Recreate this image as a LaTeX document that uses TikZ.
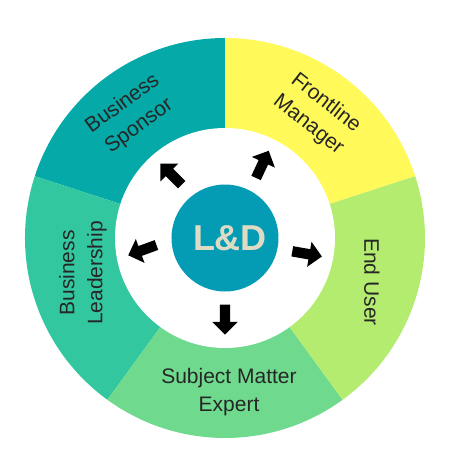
\documentclass[tikz,border=0pt]{standalone}
\usepackage{fontspec}
\setmainfont{Liberation Sans}
\usepackage{xcolor}
\usepackage{tikz}
\usetikzlibrary{shapes.arrows}

\definecolor{sponsorc}{HTML}{05AAA8}
\definecolor{managerc}{HTML}{FFF95A}
\definecolor{userc}{HTML}{B3EC6E}
\definecolor{expertc}{HTML}{6FDA8E}
\definecolor{leaderc}{HTML}{33C7A0}
\definecolor{hubc}{HTML}{049BB4}
\definecolor{ldc}{HTML}{DDDBC4}

\begin{document}
\begin{tikzpicture}[
    x=1pt, y=1pt,
    lbl/.style={align=center, font=\fontsize{21}{28}\selectfont, text=black!85},
    hole/.style={circle, fill=white, minimum size=220pt, inner sep=0pt},
    hub/.style={circle, fill=hubc, minimum size=107pt, inner sep=0pt, text=ldc, font=\fontsize{36}{40}\selectfont\bfseries},
    arr/.style={single arrow, fill=black, inner xsep=0pt, inner ysep=5pt, minimum height=30pt, single arrow head extend=7.5pt}
]
\useasboundingbox (-225,-237) rectangle (230,238);

\fill[managerc] (0,0) -- (18:200pt) arc[start angle=18, end angle=90, radius=200pt] -- cycle;
\fill[sponsorc] (0,0) -- (90:200pt) arc[start angle=90, end angle=162, radius=200pt] -- cycle;
\fill[leaderc] (0,0) -- (162:200pt) arc[start angle=162, end angle=234, radius=200pt] -- cycle;
\fill[expertc] (0,0) -- (234:200pt) arc[start angle=234, end angle=306, radius=200pt] -- cycle;
\fill[userc] (0,0) -- (306:200pt) arc[start angle=306, end angle=378, radius=200pt] -- cycle;

\node[hole] (ring) at (0,0) {};
\node[hub] (ld) at (0,0) {\hspace*{10pt}L\&D};

\node[lbl, rotate=36] (sponsor) at (-94,123) {Business\\Sponsor};
\node[lbl, rotate=-38] (manager) at (92,124) {Frontline\\Manager};
\node[lbl, rotate=-90] (user) at (147,-44) {End User};
\node[lbl] (expert) at (4,-154) {Subject Matter\\Expert};
\node[lbl, rotate=90] (leader) at (-142,-35) {Business\\Leadership};

\node[arr, rotate=135] (toSponsor) at (130:81pt) {};
\node[arr, rotate=65] (toManager) at (63:80pt) {};
\node[arr, rotate=-10] (toUser) at (-11:81pt) {};
\node[arr, rotate=-90] (toExpert) at (-90:79pt) {};
\node[arr, rotate=200] (toLeader) at (188:81pt) {};
\end{tikzpicture}
\end{document}
